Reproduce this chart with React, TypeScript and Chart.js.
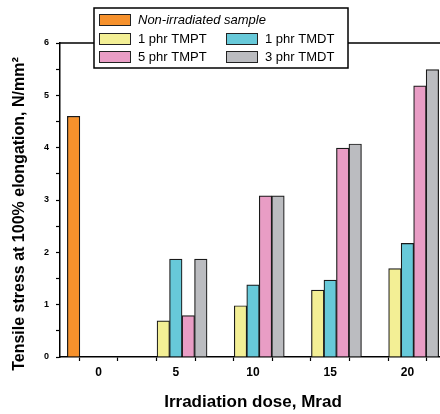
import React, { useEffect, useRef } from "react";
import { Chart, registerables } from "chart.js";

Chart.register(...registerables);

// ---- data ----
const doses = [5, 10, 15, 20];
const controlDose = [0];
const controlValues = [4.6];
const tmpt1Values = [0.69, 0.98, 1.28, 1.69];
const tmdt1Values = [1.87, 1.38, 1.47, 2.17];
const tmpt5Values = [0.79, 3.08, 3.99, 5.18];
const tmdt3Values = [1.87, 3.08, 4.07, 5.49];

const seriesLabels = [
  "Non-irradiated sample",
  "1 phr TMPT",
  "1 phr TMDT",
  "5 phr TMPT",
  "3 phr TMDT",
];
const seriesColors = ["#F6912C", "#F3EF95", "#67C9D9", "#E99DC5", "#BBBCC0"];

const xTitle = "Irradiation dose, Mrad";
const yTitle = "Tensile stress at 100% elongation, N/mm²";

const FONT = "'Liberation Sans', Arial, sans-serif";

const toPoints = (xs: number[], ys: number[]) =>
  xs.map((x, i) => ({ x, y: ys[i] }));

export default function App() {
  const ref = useRef<HTMLCanvasElement | null>(null);

  useEffect(() => {
    if (!ref.current) return;

    const framePlugin = {
      id: "frame",
      afterDraw(chart: any) {
        const { ctx, chartArea } = chart;
        ctx.save();
        ctx.strokeStyle = "#000";
        ctx.lineWidth = 1.5;
        ctx.beginPath();
        ctx.moveTo(chartArea.left, chartArea.top);
        ctx.lineTo(chartArea.right, chartArea.top);
        ctx.lineTo(chartArea.right, chartArea.bottom);
        ctx.stroke();

        // y title
        ctx.translate(19.5, 214);
        ctx.rotate(-Math.PI / 2);
        ctx.fillStyle = "#000";
        ctx.font = `bold 16px ${FONT}`;
        ctx.textAlign = "center";
        ctx.textBaseline = "middle";
        ctx.fillText(yTitle, 0, 0);
        ctx.restore();

        // legend
        ctx.save();
        const bx = 94, by = 8, bw = 254, bh = 60;
        ctx.fillStyle = "#fff";
        ctx.fillRect(bx, by, bw, bh);
        ctx.strokeStyle = "#000";
        ctx.lineWidth = 1.5;
        ctx.strokeRect(bx, by, bw, bh);
        const slots = [
          { x: 99, y: 14 },
          { x: 99, y: 33 },
          { x: 226, y: 33 },
          { x: 99, y: 51 },
          { x: 226, y: 51 },
        ];
        ctx.textBaseline = "middle";
        ctx.textAlign = "left";
        slots.forEach((s, i) => {
          ctx.fillStyle = seriesColors[i];
          ctx.fillRect(s.x, s.y, 32, 12);
          ctx.strokeStyle = "#222";
          ctx.lineWidth = 1;
          ctx.strokeRect(s.x + 0.5, s.y + 0.5, 31, 11);
          ctx.fillStyle = "#000";
          ctx.font = (i === 0 ? "italic " : "") + `13px ${FONT}`;
          ctx.fillText(seriesLabels[i], s.x + 39, s.y + 6.5);
        });
        ctx.restore();
      },
    };

    const series = [
      toPoints(controlDose, controlValues),
      toPoints(doses, tmpt1Values),
      toPoints(doses, tmdt1Values),
      toPoints(doses, tmpt5Values),
      toPoints(doses, tmdt3Values),
    ];

    const chart = new Chart(ref.current, {
      type: "bar",
      data: {
        datasets: series.map((data, i) => ({
          label: seriesLabels[i],
          data,
          backgroundColor: seriesColors[i],
          borderColor: "#1a1a1a",
          borderWidth: 1.2,
          barThickness: 12.5,
        })),
      },
      options: {
        responsive: false,
        animation: false,
        devicePixelRatio: 1,
        layout: { padding: { top: 43, right: 4, bottom: 0, left: 0 } },
        plugins: { legend: { display: false }, tooltip: { enabled: false } },
        scales: {
          x: {
            type: "linear",
            min: -2.5,
            max: 22.5,
            offset: false,
            afterFit: (s: any) => {
              s.height = 57;
            },
            ticks: {
              stepSize: 2.5,
              includeBounds: false,
              autoSkip: false,
              maxRotation: 0,
              padding: 4,
              color: "#000",
              font: { family: FONT, size: 12, weight: "bold" },
              callback: (v: any) => {
                const n = Number(v);
                return n >= 0 && Math.abs(n % 5) < 1e-9 ? String(n) : "";
              },
            },
            grid: {
              drawOnChartArea: false,
              drawTicks: true,
              tickLength: 4,
              color: "#000",
              tickWidth: 1.2,
            },
            border: { display: true, color: "#000", width: 1.5 },
            title: {
              display: true,
              text: xTitle,
              color: "#000",
              font: { family: FONT, size: 17, weight: "bold" },
              padding: { top: 0, bottom: 1 },
            },
          },
          y: {
            min: 0,
            max: 6,
            afterFit: (s: any) => {
              s.width = 60;
            },
            ticks: {
              stepSize: 0.5,
              includeBounds: false,
              autoSkip: false,
              padding: 7,
              color: "#000",
              font: { family: FONT, size: 9, weight: "bold" },
              callback: (v: any) => {
                const n = Number(v);
                return Number.isInteger(n) ? String(n) : "";
              },
            },
            grid: {
              drawOnChartArea: false,
              drawTicks: true,
              tickLength: 4,
              color: "#000",
              tickWidth: 1.2,
            },
            border: { display: true, color: "#000", width: 1.5 },
          },
        },
      },
      plugins: [framePlugin],
    } as any);

    return () => chart.destroy();
  }, []);

  return (
    <div
      style={{
        position: "absolute",
        left: 0,
        top: 0,
        width: 440,
        height: 414,
        overflow: "hidden",
        background: "#fff",
      }}
    >
      <canvas ref={ref} width={450} height={414} style={{ width: 450, height: 414, display: "block" }} />
    </div>
  );
}
